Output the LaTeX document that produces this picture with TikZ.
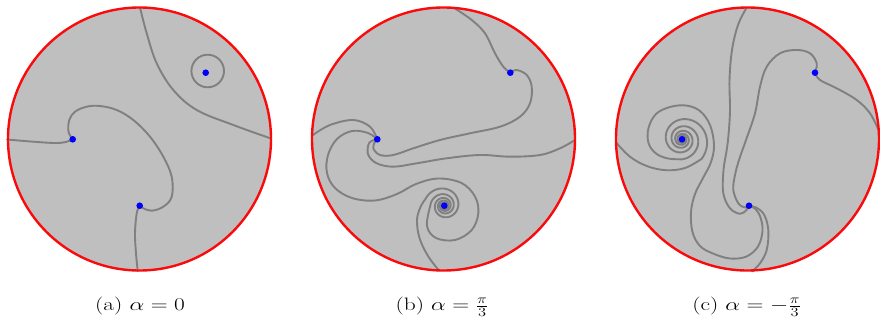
\documentclass[tikz,border=0pt]{standalone}
\usepackage{fix-cm}
\usepackage{graphicx}
\definecolor{diskfill}{RGB}{191,191,191}
\definecolor{trajgray}{RGB}{128,128,128}
\definecolor{rimred}{RGB}{250,10,10}
\definecolor{poleblue}{RGB}{0,0,250}
\tikzset{
  disk/.style={fill=diskfill},
  rim/.style={draw=rimred, line width=2.4pt},
  traj/.style={draw=trajgray, line width=1.9pt, line cap=round, line join=round},
  pole/.style={circle, fill=poleblue, inner sep=0pt, minimum size=6.6pt},
  capt/.style={anchor=base, font=\fontsize{18}{22}\selectfont},
  sm/.style={smooth, tension=0.6}
}
\begin{document}
\begin{tikzpicture}[x=1pt,y=-1pt]
\useasboundingbox (0,0) rectangle (880,324);
% disks
\fill[disk] (139.5,139) circle[radius=131.5];
\fill[disk] (443.5,139) circle[radius=131.5];
\fill[disk] (747.5,139) circle[radius=131.5];

% ---------- (a) ----------
\draw[traj] plot[sm] coordinates {(140,7.5) (146.7,33.3) (156.7,63.3) (173.3,90) (196.7,110) (233.3,125) (271,138.5)};
\draw[traj] (207.7,71) circle[radius=16.3];
\draw[traj] plot[sm] coordinates {(7,139.5) (33.3,141.7) (55,143) (66,142) (72.7,139.3)};
\draw[traj] plot[sm] coordinates {(72.7,139.3) (68.5,131.7) (69.3,120) (75,111.7) (86.7,106.7) (100,106) (116.7,110) (133.3,120) (150,136.7) (163.3,156.7) (171.7,176.7) (171.7,196.7) (163.3,206.7) (151.7,210.7) (143.3,208.3) (139.7,205.7)};
\draw[traj] plot[sm] coordinates {(139.7,205.7) (136.7,213.3) (135,233.3) (136,253.3) (137.7,271)};

% ---------- (b) ----------
\draw[traj] plot[sm] coordinates {(455,8.5) (471.7,20) (485,33.3) (495,53.3) (503.3,66.7) (510.3,72.7)};
\draw[traj] plot[sm] coordinates {(510.3,72.7) (516.7,70) (526.7,75) (531.7,86.7) (530,103.3) (520,116.7) (500,126.7) (470,133.3) (440,140) (413.3,148.3) (393.3,155) (380,155) (373.3,148.3) (375,141.7) (377.3,139.3)};
\draw[traj] plot[sm] coordinates {(575,140) (560,148.3) (540,155) (510,156.7) (480,155) (446.7,158.3) (416.7,163.3) (393.3,166.7) (376.7,163.3) (368.3,155) (368.3,145) (371.5,141) (377.3,139.3)};
\draw[traj] plot[sm] coordinates {(313,135) (330,125) (353.3,120) (370,126.7) (377.3,139.3)};
\draw[traj] plot[sm] coordinates {(377.3,139.3) (368,133) (352,131) (337,139) (328,155) (327,173) (335,188) (352,198) (375,200.5) (397,194) (416,184) (438,178.5) (461.5,183) (475,196.5) (478.3,213.3) (471.7,230) (455,240) (436,238) (427,226) (430.3,205.7)}
  -- plot[domain=0:820, samples=220, variable=\t] ({444.3+14*exp(-0.002218*\t)*cos(180+\t)}, {205.7+14*exp(-0.002218*\t)*sin(180+\t)});
\draw[traj] plot[sm] coordinates {(439,270.5) (428,256) (419.5,238) (417,220) (420.5,207) (425.55,198.9)}
  -- plot[domain=0:880, samples=220, variable=\t] ({444.3+19.95*exp(-0.002218*\t)*cos(200+\t)}, {205.7+19.95*exp(-0.002218*\t)*sin(200+\t)});

% ---------- (c) ----------
\draw[traj] plot[sm] coordinates {(746.7,7.5) (738,25) (732,50) (729.5,80) (730,110) (728.5,135) (726.7,150) (723.5,170) (723.3,193.3) (730,208.3) (740,213.8) (746.5,210) (749,205.7)};
\draw[traj] plot[sm] coordinates {(815,72.7) (816.7,63.3) (810,53.3) (796.7,50) (780,53.3) (766.7,66.7) (760,86.7) (755,113.3) (746,140) (739,160) (735,175) (733.3,190) (738.3,203.3) (745,207.5) (749,205.7)};
\draw[traj] plot[sm] coordinates {(815,72.7) (820,80) (836.7,88.3) (856.7,100) (870,113.3) (878.5,130)};
\draw[traj] plot[sm] coordinates {(749,205.7) (756,207.5) (764,214.5) (768.3,230) (766.7,250) (760,263.3) (752,271.5)};
\draw[traj] plot[sm] coordinates {(749,205.7) (755.5,209) (760.5,217.5) (762.5,231) (758,246.5) (746.5,256.5) (730,258.5) (713,253.5) (700,246) (692.5,232) (691,212) (695,194) (703,178) (711,162) (714,145) (710,125) (700,111) (686,105.5) (670,107) (656,114) (648.5,128) (648.5,143) (656,153.5) (668,158.5) (682,159.3)}
  -- plot[domain=0:890, samples=240, variable=\t] ({682+20*exp(-0.00241*\t)*cos(90-\t)}, {139.3+20*exp(-0.00241*\t)*sin(90-\t)});
\draw[traj] plot[sm] coordinates {(617,143.5) (630,156.7) (646.7,166) (666,170.2) (685,168) (701.6,158.9)}
  -- plot[domain=0:895, samples=240, variable=\t] ({682+27.69*exp(-0.00241*\t)*cos(45-\t)}, {139.3+27.69*exp(-0.00241*\t)*sin(45-\t)});

% rims
\draw[rim] (139.5,139) circle[radius=131.5];
\draw[rim] (443.5,139) circle[radius=131.5];
\draw[rim] (747.5,139) circle[radius=131.5];

% poles
\node[pole] (a1) at (205.7,72.7) {};
\node[pole] (a2) at (72.7,139.3) {};
\node[pole] (a3) at (139.7,205.7) {};
\node[pole] (b1) at (510.3,72.7) {};
\node[pole] (b2) at (377.3,139.3) {};
\node[pole] (b3) at (444.3,205.7) {};
\node[pole] (c1) at (815,72.7) {};
\node[pole] (c2) at (682,139.3) {};
\node[pole] (c3) at (749,205.7) {};

% captions
\node[capt] (capa) at (140,310.5) {\scalebox{1.3}[1]{(a)~$\alpha=0$}};
\node[capt] (capb) at (442,310.5) {\scalebox{1.3}[1]{(b)~$\alpha=\frac{\pi}{3}$}};
\node[capt] (capc) at (746.7,310.5) {\scalebox{1.3}[1]{(c)~$\alpha=-\frac{\pi}{3}$}};
\end{tikzpicture}
\end{document}
